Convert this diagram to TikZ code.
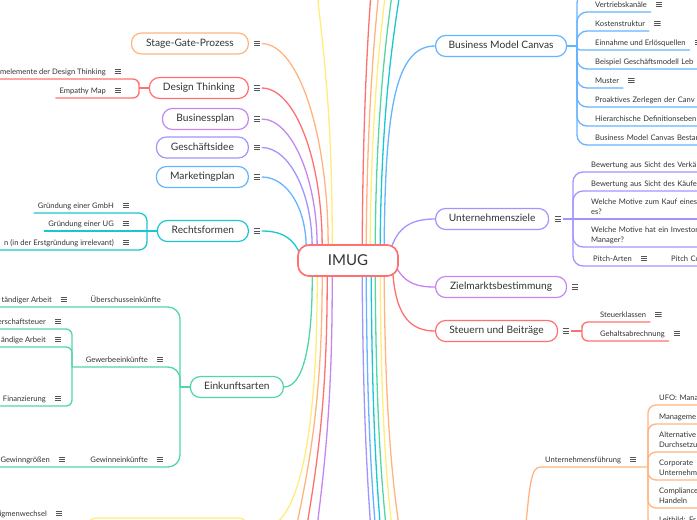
\documentclass[tikz,border=0pt]{standalone}
\usepackage{fontspec}
\setmainfont{Lato}
\usepackage{tikz}
\usetikzlibrary{backgrounds}
\definecolor{txt}{HTML}{333333}
\definecolor{icongray}{HTML}{555555}
\definecolor{cRed}{HTML}{FF7070}
\definecolor{cOrange}{HTML}{FFB480}
\definecolor{cYellow}{HTML}{FFEC7A}
\definecolor{cGreen}{HTML}{52D6A4}
\definecolor{cCyan}{HTML}{1CC6D0}
\definecolor{cBlue}{HTML}{66B3FF}
\definecolor{cLavender}{HTML}{A095FF}
\definecolor{cPurple}{HTML}{C586F0}
\tikzset{
  line cap=round,
  line join=round,
  root/.style={draw=cRed, line width=1.7pt, rounded corners=11pt, fill=white, minimum width=100pt, minimum height=31pt, text height=10.5pt, text depth=0pt, text=txt, font=\fontsize{15}{18}\selectfont},
  topic/.style={draw=#1, line width=1.2pt, rounded corners=10pt, fill=white, minimum height=21pt, inner xsep=0pt, text height=7.4pt, text depth=2.2pt, text=txt, font=\fontsize{10.2}{12}\selectfont},
  leaf/.style={inner xsep=4pt, inner ysep=3pt, align=left, text=txt, font=\fontsize{7.6}{9.5}\selectfont, execute at end node={\rule[-1.5pt]{0pt}{1.5pt}}},
  cutleaf/.style={leaf, text width=140pt},
  menuicon/.style={minimum width=6.5pt, minimum height=5.6pt, inner sep=0pt, outer sep=1.5pt,
    path picture={
      \draw[icongray, line width=0.7pt]
        ([yshift=-0.5pt]path picture bounding box.north west) -- ([yshift=-0.5pt]path picture bounding box.north east)
        (path picture bounding box.west) -- (path picture bounding box.east)
        ([yshift=0.5pt]path picture bounding box.south west) -- ([yshift=0.5pt]path picture bounding box.south east);
    }},
  conn/.style={draw=#1, line width=1.3pt}
}

\begin{document}
\begin{tikzpicture}[x=1pt, y=-1pt]
  \useasboundingbox (0,0) rectangle (697,520);

  % root
  \node[root] (imug) at (348,260.5) {IMUG};

  % left topics
  \node[topic=cOrange, minimum width=117pt, anchor=east] (sgp) at (249,43.5) {Stage-Gate-Prozess};
  \node[topic=cRed, minimum width=99pt, anchor=east] (dt) at (249,88) {Design Thinking};
  \node[topic=cPurple, minimum width=86pt, anchor=east] (bp) at (249,119) {Businessplan};
  \node[topic=cLavender, minimum width=92pt, anchor=east] (gi) at (249,147.5) {Geschäftsidee};
  \node[topic=cBlue, minimum width=92pt, anchor=east] (mp) at (249,177) {Marketingplan};
  \node[topic=cCyan, minimum width=91pt, anchor=east] (rf) at (249,231) {Rechtsformen};
  \node[topic=cGreen, minimum width=93pt, anchor=east] (ek) at (284,387) {Einkunftsarten};
  \node[topic=cYellow, minimum width=162pt, anchor=east] (ylw) at (249,528.5) {};

  % right topics
  \node[topic=cBlue, minimum width=131pt, anchor=west] (bmc) at (435,46) {Business Model Canvas};
  \node[topic=cLavender, minimum width=113pt, anchor=west] (uz) at (435,219) {Unternehmensziele};
  \node[topic=cPurple, minimum width=131pt, anchor=west] (zb) at (435,287) {Zielmarktsbestimmung};
  \node[topic=cRed, minimum width=122pt, anchor=west] (sb) at (435,331) {Steuern und Beiträge};

  % topic icons
  \node[menuicon] (sgp-i) at ([xshift=8pt]sgp.east) {};
  \node[menuicon] (dt-i) at ([xshift=8pt]dt.east) {};
  \node[menuicon] (bp-i) at ([xshift=8pt]bp.east) {};
  \node[menuicon] (gi-i) at ([xshift=8pt]gi.east) {};
  \node[menuicon] (mp-i) at ([xshift=8pt]mp.east) {};
  \node[menuicon] (rf-i) at ([xshift=8pt]rf.east) {};
  \node[menuicon] (ylw-i) at ([xshift=8pt]ylw.east) {};
  \node[menuicon] (uz-i) at ([xshift=9pt]uz.east) {};
  \node[menuicon] (zb-i) at ([xshift=8pt]zb.east) {};
  \node[menuicon] (sb-i) at ([xshift=8pt]sb.east) {};

  % left leaves
  \node[leaf, anchor=south east] (dt1) at (110,79) {rmelemente der Design Thinking};
  \node[leaf, anchor=south east] (dt2) at (110,98) {Empathy Map};
  \node[leaf, anchor=south east] (rf1) at (118,213) {Gründung einer GmbH};
  \node[leaf, anchor=south east] (rf2) at (118,231) {Gründung einer UG};
  \node[leaf, anchor=south east] (rf3) at (118,250) {n (in der Erstgründung irrelevant)};
  \node[leaf, anchor=south east] (ueb) at (165,307) {Überschusseinkünfte};
  \node[leaf, anchor=south east] (ueb1) at (56,307) {tändiger Arbeit};
  \node[leaf, anchor=south east] (gew) at (152,367) {Gewerbeeinkünfte};
  \node[leaf, anchor=south east] (gew1) at (50,329) {erschaftsteuer};
  \node[leaf, anchor=south east] (gew2) at (50,347) {ändige Arbeit};
  \node[leaf, anchor=south east] (gew3) at (50,406) {Finanzierung};
  \node[leaf, anchor=south east] (gwn) at (152,467) {Gewinneinkünfte};
  \node[leaf, anchor=south east] (gwn1) at (54,467) {Gewinngrößen};
  \node[leaf, anchor=south east] (ylw1) at (51,521) {igmenwechsel};

  % right leaves
  \node[leaf, anchor=south west] (bmc1) at (591,12) {Vertriebskanäle};
  \node[leaf, anchor=south west] (bmc2) at (591,31) {Kostenstruktur};
  \node[leaf, anchor=south west] (bmc3) at (591,50) {Einnahme und Erlösquellen};
  \node[cutleaf, anchor=south west] (bmc4) at (591,69) {Beispiel Geschäftsmodell Leb};
  \node[leaf, anchor=south west] (bmc5) at (591,88) {Muster};
  \node[cutleaf, anchor=south west] (bmc6) at (591,107) {Proaktives Zerlegen der Canv};
  \node[cutleaf, anchor=south west] (bmc7) at (591,126) {Hierarchische Definitionseben};
  \node[cutleaf, anchor=south west] (bmc8) at (591,145) {Business Model Canvas Bestan};
  \node[cutleaf, anchor=south west] (uz1) at (587,172) {Bewertung aus Sicht des Verkä};
  \node[cutleaf, anchor=south west] (uz2) at (587,191) {Bewertung aus Sicht des Käufer};
  \node[cutleaf, anchor=south west] (uz3) at (587,219) {Welche Motive zum Kauf eines\\es?};
  \node[cutleaf, anchor=south west] (uz4) at (587,247) {Welche Motive hat ein Investor\\Manager?};
  \node[leaf, anchor=south west] (uz5) at (589,266) {Pitch-Arten};
  \node[cutleaf, anchor=south west] (uz6) at (667,266) {Pitch Co};
  \node[leaf, anchor=south west] (sb1) at (596,322) {Steuerklassen};
  \node[leaf, anchor=south west] (sb2) at (596,341) {Gehaltsabrechnung};
  \node[leaf, anchor=south west] (uf) at (541,467) {Unternehmensführung};
  \node[cutleaf, anchor=south west] (uf1) at (655,405) {UFO: Manag};
  \node[cutleaf, anchor=south west] (uf2) at (655,424) {Manageme};
  \node[cutleaf, anchor=south west] (uf3) at (655,452) {Alternative\\Durchsetzu};
  \node[cutleaf, anchor=south west] (uf4) at (655,480) {Corporate\\Unternehme};
  \node[cutleaf, anchor=south west] (uf5) at (655,508) {Compliance\\Handeln};
  \node[cutleaf, anchor=south west] (uf6) at (655,527) {Leitbild: Fr};

  % leaf icons
  \node[menuicon] (dt1-i) at ([xshift=8pt,yshift=7.5pt]dt1.south east) {};
  \node[menuicon] (dt2-i) at ([xshift=8pt,yshift=7.5pt]dt2.south east) {};
  \node[menuicon] (rf1-i) at ([xshift=8pt,yshift=7.5pt]rf1.south east) {};
  \node[menuicon] (rf2-i) at ([xshift=8pt,yshift=7.5pt]rf2.south east) {};
  \node[menuicon] (rf3-i) at ([xshift=8pt,yshift=7.5pt]rf3.south east) {};
  \node[menuicon] (ueb1-i) at ([xshift=8pt,yshift=7.5pt]ueb1.south east) {};
  \node[menuicon] (gew-i) at ([xshift=8pt,yshift=7.5pt]gew.south east) {};
  \node[menuicon] (gew1-i) at ([xshift=8pt,yshift=7.5pt]gew1.south east) {};
  \node[menuicon] (gew2-i) at ([xshift=8pt,yshift=7.5pt]gew2.south east) {};
  \node[menuicon] (gew3-i) at ([xshift=8pt,yshift=7.5pt]gew3.south east) {};
  \node[menuicon] (gwn-i) at ([xshift=8pt,yshift=7.5pt]gwn.south east) {};
  \node[menuicon] (gwn1-i) at ([xshift=8pt,yshift=7.5pt]gwn1.south east) {};
  \node[menuicon] (ylw1-i) at ([xshift=8pt,yshift=7.5pt]ylw1.south east) {};
  \node[menuicon] (bmc1-i) at ([xshift=8pt,yshift=7.5pt]bmc1.south east) {};
  \node[menuicon] (bmc2-i) at ([xshift=8pt,yshift=7.5pt]bmc2.south east) {};
  \node[menuicon] (bmc3-i) at ([xshift=8pt,yshift=7.5pt]bmc3.south east) {};
  \node[menuicon] (bmc5-i) at ([xshift=8pt,yshift=7.5pt]bmc5.south east) {};
  \node[menuicon] (uz5-i) at ([xshift=8pt,yshift=7.5pt]uz5.south east) {};
  \node[menuicon] (sb1-i) at ([xshift=8pt,yshift=7.5pt]sb1.south east) {};
  \node[menuicon] (sb2-i) at ([xshift=8pt,yshift=7.5pt]sb2.south east) {};
  \node[menuicon] (uf-i) at ([xshift=8pt,yshift=7.5pt]uf.south east) {};

  % junctions and free ends
  \coordinate (dt-j) at (139,88);
  \coordinate (rf-j) at (147,231);
  \coordinate (ek-j) at (180,387);
  \coordinate (gew-j) at (72,367);
  \coordinate (bmc-j) at (577,46);
  \coordinate (bmc0) at (720,-7);
  \coordinate (uz-j) at (573,219);
  \coordinate (sb-j) at (582,331);
  \coordinate (uf-j) at (648,467);
  \coordinate (uf-p) at (524,545);
  \coordinate (up1) at (316,-20);
  \coordinate (up2) at (372,-20);
  \coordinate (up3) at (380,-20);
  \coordinate (up4) at (387,-20);
  \coordinate (up5) at (394,-20);
  \coordinate (up6) at (402,-20);
  \coordinate (dn1) at (315,545);
  \coordinate (dn2) at (304,545);
  \coordinate (dn3) at (293,545);
  \coordinate (dn4) at (372,545);
  \coordinate (dn5) at (377,545);
  \coordinate (dn6) at (382,545);
  \coordinate (dn7) at (388,545);
  \coordinate (dn8) at (394,545);
  \coordinate (dn9) at (402,545);

  \begin{scope}[on background layer]
    % root to left topics
    \draw[conn=cOrange] (sgp-i) .. controls (300,44) and (329,140) .. ([xshift=31pt,yshift=-6pt]imug.north west);
    \draw[conn=cRed] (dt-i) .. controls (295,88) and (323,160) .. ([xshift=25pt,yshift=-6pt]imug.north west);
    \draw[conn=cPurple] (bp-i) .. controls (292,119) and (318,180) .. ([xshift=20pt,yshift=-6pt]imug.north west);
    \draw[conn=cLavender] (gi-i) .. controls (290,147.5) and (313,195) .. ([xshift=15pt,yshift=-6pt]imug.north west);
    \draw[conn=cBlue] (mp-i) .. controls (288,177) and (307,210) .. ([xshift=9pt,yshift=-6pt]imug.north west);
    \draw[conn=cCyan] (rf-i) .. controls (284,231) and (294,240) .. ([xshift=3pt,yshift=-10pt]imug.north west);
    \draw[conn=cGreen] (ek) .. controls (302,387) and (313,350) .. ([xshift=15pt,yshift=6pt]imug.south west);
    \draw[conn=cYellow] (ylw-i) .. controls (300,528.5) and (318,430) .. ([xshift=20pt,yshift=6pt]imug.south west);
    % root to right topics
    \draw[conn=cBlue] ([xshift=87pt,yshift=-6pt]imug.north west) .. controls (385,110) and (395,46) .. (bmc);
    \draw[conn=cLavender] ([xshift=94pt,yshift=-4pt]imug.north west) .. controls (398,228) and (410,219) .. (uz);
    \draw[conn=cPurple] ([xshift=-3pt,yshift=-6pt]imug.east) .. controls (405,284) and (418,287) .. (zb);
    \draw[conn=cRed] ([xshift=-6pt,yshift=4pt]imug.south east) .. controls (396,318) and (412,331) .. (sb);
    % root to topics outside the view
    \draw[conn=cYellow] ([xshift=35pt,yshift=-6pt]imug.north west) .. controls (333,100) and (320,30) .. (up1);
    \draw[conn=cRed] ([xshift=65pt,yshift=-6pt]imug.north west) .. controls (363,110) and (368,30) .. (up2);
    \draw[conn=cOrange] ([xshift=69pt,yshift=-6pt]imug.north west) .. controls (367,110) and (375,30) .. (up3);
    \draw[conn=cYellow] ([xshift=73pt,yshift=-6pt]imug.north west) .. controls (371,110) and (381,30) .. (up4);
    \draw[conn=cGreen] ([xshift=78pt,yshift=-6pt]imug.north west) .. controls (376,110) and (387,30) .. (up5);
    \draw[conn=cCyan] ([xshift=83pt,yshift=-6pt]imug.north west) .. controls (381,110) and (394,30) .. (up6);
    \draw[conn=cPurple] ([xshift=35pt,yshift=6pt]imug.south west) .. controls (333,420) and (321,490) .. (dn1);
    \draw[conn=cRed] ([xshift=30pt,yshift=6pt]imug.south west) .. controls (328,420) and (312,490) .. (dn2);
    \draw[conn=cOrange] ([xshift=25pt,yshift=6pt]imug.south west) .. controls (323,420) and (303,490) .. (dn3);
    \draw[conn=cLavender] ([xshift=65pt,yshift=6pt]imug.south west) .. controls (363,420) and (368,490) .. (dn4);
    \draw[conn=cBlue] ([xshift=69pt,yshift=6pt]imug.south west) .. controls (367,420) and (372,490) .. (dn5);
    \draw[conn=cCyan] ([xshift=74pt,yshift=6pt]imug.south west) .. controls (372,420) and (377,490) .. (dn6);
    \draw[conn=cGreen] ([xshift=78pt,yshift=6pt]imug.south west) .. controls (376,420) and (382,490) .. (dn7);
    \draw[conn=cYellow] ([xshift=83pt,yshift=6pt]imug.south west) .. controls (381,420) and (387,490) .. (dn8);
    \draw[conn=cOrange] ([xshift=87pt,yshift=6pt]imug.south west) .. controls (385,420) and (393,490) .. (dn9);

    % Design Thinking
    \draw[conn=cRed] (dt) -- (dt-j);
    \draw[conn=cRed, rounded corners=6pt] (dt1.south west) -| (dt-j) |- (dt2.south west);
    % Rechtsformen
    \draw[conn=cCyan] (rf) -- (rf-j);
    \draw[conn=cCyan, rounded corners=8pt] (rf1.south west) -| (rf-j) |- (rf3.south west);
    \draw[conn=cCyan] (rf-j) -- (rf2.south west);
    % Einkunftsarten
    \draw[conn=cGreen] (ek) -- (ek-j);
    \draw[conn=cGreen, rounded corners=12pt] (ueb1.south west) -| (ek-j) |- (gwn1.south west);
    \draw[conn=cGreen, rounded corners=12pt] (ek-j) |- (gew-j);
    \draw[conn=cGreen, rounded corners=6pt] (gew1.south west) -| (gew-j) |- (gew3.south west);
    \draw[conn=cGreen, rounded corners=6pt] (gew-j) |- (gew2.south west);

    % Business Model Canvas
    \draw[conn=cBlue] (bmc) -- (bmc-j);
    \draw[conn=cBlue, rounded corners=10pt] (bmc-j) |- (bmc0);
    \draw[conn=cBlue, rounded corners=10pt] (bmc-j) |- (bmc1.south east);
    \draw[conn=cBlue, rounded corners=10pt] (bmc-j) |- (bmc2.south east);
    \draw[conn=cBlue, rounded corners=3pt] (bmc-j) |- (bmc3.south east);
    \draw[conn=cBlue, rounded corners=10pt] (bmc-j) |- (bmc4.south east);
    \draw[conn=cBlue, rounded corners=10pt] (bmc-j) |- (bmc5.south east);
    \draw[conn=cBlue, rounded corners=10pt] (bmc-j) |- (bmc6.south east);
    \draw[conn=cBlue, rounded corners=10pt] (bmc-j) |- (bmc7.south east);
    \draw[conn=cBlue, rounded corners=10pt] (bmc-j) |- (bmc8.south east);
    % Unternehmensziele
    \draw[conn=cLavender] (uz-i) -- (uz-j);
    \draw[conn=cLavender, rounded corners=10pt] (uz-j) |- (uz1.south east);
    \draw[conn=cLavender, rounded corners=10pt] (uz-j) |- (uz2.south east);
    \draw[conn=cLavender] (uz-j) -- (uz3.south east);
    \draw[conn=cLavender, rounded corners=10pt] (uz-j) |- (uz4.south east);
    \draw[conn=cLavender, rounded corners=10pt] (uz-j) |- (uz5.south east) -- (uz6.south east);
    % Steuern und Beitraege
    \draw[conn=cRed] (sb-i) -- (sb-j);
    \draw[conn=cRed, rounded corners=6pt] (sb1.south east) -| (sb-j) |- (sb2.south east);
    % Unternehmensfuehrung
    \draw[conn=cOrange] (uf-p) .. controls (530,480) and (531,467) .. (uf.south west) -- (uf-j);
    \draw[conn=cOrange, rounded corners=8pt] (uf1.south east) -| (uf-j) |- (uf6.south east);
    \draw[conn=cOrange, rounded corners=8pt] (uf-j) |- (uf2.south east);
    \draw[conn=cOrange, rounded corners=8pt] (uf-j) |- (uf3.south east);
    \draw[conn=cOrange, rounded corners=8pt] (uf-j) |- (uf4.south east);
    \draw[conn=cOrange, rounded corners=8pt] (uf-j) |- (uf5.south east);
  \end{scope}
\end{tikzpicture}
\end{document}
